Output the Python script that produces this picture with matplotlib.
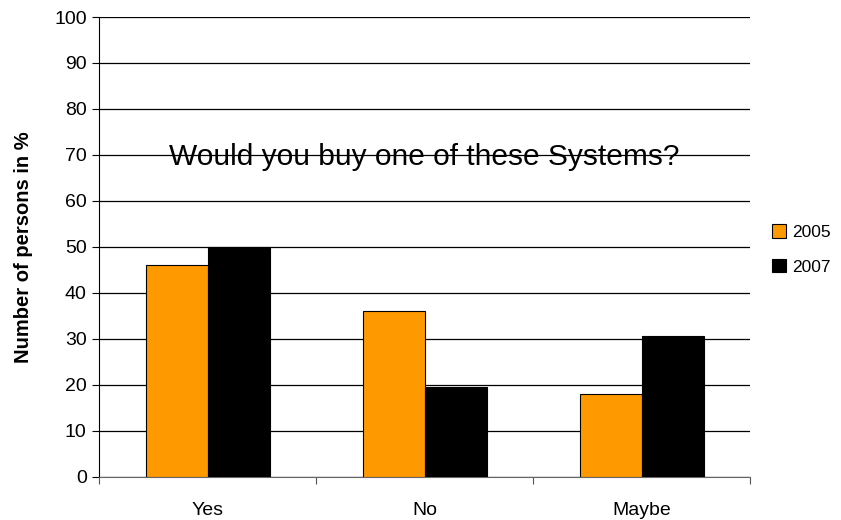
import numpy as np
import matplotlib
matplotlib.use('Agg')
import matplotlib.pyplot as plt

# data
categories = ['Yes', 'No', 'Maybe']
years = ['2005', '2007']
values_2005 = [46, 36, 18]
values_2007 = [50, 19.5, 30.7]
colors = ['#FF9900', '#000000']

plt.rcParams['font.family'] = ['Liberation Sans', 'DejaVu Sans']

fig = plt.figure(figsize=(8.41, 5.20), dpi=100)
ax = fig.add_axes([0.118, 0.0833, 0.774, 0.884])

x = np.arange(len(categories))
w = 1 / 3.5
ax.bar(x - w / 2, values_2005, w, color=colors[0], edgecolor='black', linewidth=0.8, label=years[0], zorder=3)
ax.bar(x + w / 2, values_2007, w, color=colors[1], edgecolor='black', linewidth=0.8, label=years[1], zorder=3)

ax.set_xlim(-0.5, 2.5)
ax.set_ylim(0, 100)
ax.set_yticks(np.arange(0, 101, 10))
ax.yaxis.grid(True, color='black', linewidth=0.9, zorder=0)
ax.set_axisbelow(True)

# category labels between boundary ticks
ax.set_xticks([-0.5, 0.5, 1.5, 2.5])
ax.set_xticklabels([])
ax.set_xticks(x, minor=True)
ax.set_xticklabels(categories, minor=True)
ax.tick_params(axis='x', which='minor', length=0, pad=18, labelsize=14)
ax.tick_params(axis='x', which='major', length=5, direction='out', color='#555555')
ax.tick_params(axis='y', length=5, direction='out', labelsize=14, pad=4)

for s in ['top', 'right']:
    ax.spines[s].set_visible(False)
ax.spines['bottom'].set_color('#666666')
ax.spines['left'].set_color('black')

ax.set_ylabel('Number of persons in %', fontsize=14.5, fontweight='bold')
ax.yaxis.set_label_coords(-0.102, 0.5)

ax.text(1.0, 69.5, 'Would you buy one of these Systems?', ha='center', va='center', fontsize=21.5)

fig.legend(loc='center left', bbox_to_anchor=(0.899, 0.52), frameon=False, fontsize=12.5,
           handlelength=0.8, handleheight=0.8, handletextpad=0.4, labelspacing=1.1)

fig.savefig('out.png', dpi=100)
